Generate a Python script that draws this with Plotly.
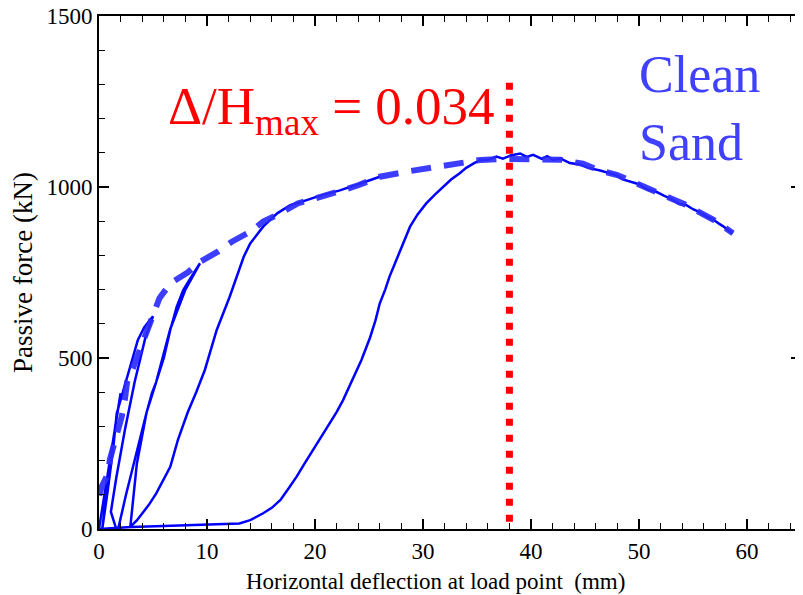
import plotly.graph_objects as go

# ---- data ----
# solid cyclic loading curve (early cycles)
cyc_x = [0.0, 0.6, 1.2, 1.6, 2.0, 1.5, 0.9, 0.3,
         0.8, 1.33, 1.64, 2.2, 2.7, 3.1, 3.6, 4.2, 5.0,
         4.3, 3.3, 2.4, 1.6, 1.1, 1.7,
         2.5, 3.2, 3.8, 4.4, 4.9, 5.3, 6.0, 6.6, 7.2, 7.8, 8.4, 9.35,
         8.0, 6.6, 5.3, 4.4, 3.5, 2.9,
         3.5, 3.9, 4.6, 5.3, 6.0, 6.6, 7.3, 8.2, 9.0, 9.8, 10.9, 12.1, 13.4,
         14.0, 15.2, 16.5, 17.7, 18.6, 20.2, 22.3, 24.0, 26.0]
cyc_y = [0, 120, 250, 330, 397, 300, 160, 0,
         110, 240, 338, 400, 450, 500, 553, 590, 622,
         560, 430, 290, 150, 50, -10,
         100, 190, 270, 340, 397, 430, 500, 582, 650, 699, 730, 777,
         700, 585, 430, 340, 190, 6,
         25, 42, 70, 104, 145, 182, 260, 340, 400, 465, 582, 679, 796,
         835, 884, 923, 947, 955, 972, 990, 1008, 1030]

# solid final loading curve
fin_x = [0.0, 3.0, 6.0, 9.0, 12.1, 13.0, 14.0, 15.2, 16.0, 16.8, 17.5, 18.3, 19.0,
         19.8, 20.6, 21.4, 22.0, 22.6, 23.5, 24.3, 25.1, 25.6, 26.0, 26.5, 26.9,
         27.4, 27.9, 28.4, 28.8, 29.5, 30.3, 31.1, 31.9, 32.6, 33.4,
         34.0, 34.7, 35.3, 36.0, 36.8, 37.4, 38.1, 39.0, 39.6, 40.2, 41.0,
         41.5, 42.1, 42.7, 43.6, 44.5, 45.3, 46.4, 47.2, 47.9, 48.5, 49.2,
         50.0, 50.8, 51.6, 52.3, 53.0, 53.7, 54.4, 55.0, 55.5, 56.2, 56.9,
         57.4, 57.8, 58.3, 58.7]
fin_y = [0, 6, 9, 12, 17, 16, 26, 46, 62, 85, 116, 153, 190,
         231, 270, 309, 342, 377, 440, 494, 560, 610, 660, 700, 738,
         776, 816, 852, 884, 920, 952, 978, 1001, 1022, 1040,
         1056, 1069, 1079, 1080, 1089, 1083, 1092, 1098, 1088, 1094, 1082,
         1090, 1079, 1084, 1070, 1066, 1056, 1048, 1040, 1035, 1022, 1015,
         1008, 992, 986, 975, 965, 950, 947, 935, 928, 915, 904,
         893, 885, 872, 865]

# dashed backbone envelope
env_x = [-0.8, -0.4, 0.25, 0.86, 1.0, 1.5, 2.1, 2.4, 2.6, 3.2, 3.8, 4.4, 4.9,
         5.6, 6.6, 8.2, 9.4, 11.0, 12.3, 14.0, 15.2, 16.8, 18.4, 20.2, 22.0,
         24.0, 26.0, 28.5, 30.0, 31.6, 33.4, 35.3, 37.3, 40.0, 42.7, 44.8,
         46.4, 48.0, 51.6, 54.4, 56.9, 58.7]
env_y = [5, 56, 124, 163, 202, 260, 328, 380, 430, 475, 523, 572, 621,
         675, 718, 750, 782, 811, 840, 869, 899, 923, 952, 967, 985,
         1005, 1030, 1045, 1052, 1061, 1071, 1079, 1082, 1082, 1080, 1068,
         1048, 1035, 986, 947, 904, 865]

# Delta/H max marker (drawn top-down)
dmax_x = [38.0, 38.0]
dmax_y = [1305, 20]

FONT = "Liberation Serif"

fig = go.Figure()
fig.add_trace(go.Scatter(x=cyc_x, y=cyc_y, mode="lines",
                         line=dict(color="#0000ff", width=2.5), showlegend=False))
fig.add_trace(go.Scatter(x=fin_x, y=fin_y, mode="lines",
                         line=dict(color="#0000ff", width=2.5), showlegend=False))
fig.add_trace(go.Scatter(x=env_x, y=env_y, mode="lines",
                         line=dict(color="rgba(45,45,255,0.92)", width=6, dash="20px,13px"),
                         showlegend=False))
fig.add_trace(go.Scatter(x=dmax_x, y=dmax_y, mode="lines",
                         line=dict(color="#ff0000", width=7, dash="7px,9px"),
                         showlegend=False))

axis_common = dict(
    showline=True, linecolor="black", linewidth=2, mirror="allticks",
    ticks="inside", ticklen=10, tickwidth=2, tickcolor="#000000",
    showgrid=False, zeroline=False, automargin=False, ticklabeloverflow="allow",
    tickfont=dict(family=FONT, size=23, color="black"),
)

fig.update_xaxes(range=[0, 65], tickmode="linear", tick0=0, dtick=10,
                 minor=dict(dtick=2, tick0=0, ticks="inside", ticklen=6, tickwidth=1.2,
                            tickcolor="black", showgrid=False),
                 **axis_common)
fig.update_yaxes(range=[0, 1500], tickmode="linear", tick0=0, dtick=500,
                 minor=dict(dtick=100, tick0=0, ticks="inside", ticklen=6, tickwidth=1.2,
                            tickcolor="black", showgrid=False),
                 title=dict(text="Passive force (kN)",
                            font=dict(family=FONT, size=27, color="black"), standoff=11),
                 **axis_common)

# x-axis title (placed slightly left of centre, as in the reference)
fig.add_annotation(text="Horizontal deflection at load point \u00a0(mm)",
                   xref="paper", yref="paper", x=0.48, y=-0.075,
                   xanchor="center", yanchor="top", showarrow=False,
                   font=dict(family=FONT, size=23, color="black"))

fig.add_annotation(text="\u0394/H<sub>max</sub> = 0.034", xref="paper", yref="paper",
                   x=0.0954, y=0.749, xanchor="left", yanchor="bottom", showarrow=False,
                   font=dict(family=FONT, size=53, color="#ff0000"))
fig.add_annotation(text="Clean", xref="paper", yref="paper",
                   x=0.7664, y=0.826, xanchor="left", yanchor="bottom", showarrow=False,
                   font=dict(family=FONT, size=52, color="#4040ff"))
fig.add_annotation(text="Sand", xref="paper", yref="paper",
                   x=0.7664, y=0.694, xanchor="left", yanchor="bottom", showarrow=False,
                   font=dict(family=FONT, size=52, color="#4040ff"))

fig.update_layout(width=795, height=587, margin=dict(l=91, r=2, t=8, b=66),
                  paper_bgcolor="white", plot_bgcolor="white",
                  font=dict(family=FONT, color="black"))

fig.write_html("out.html")
